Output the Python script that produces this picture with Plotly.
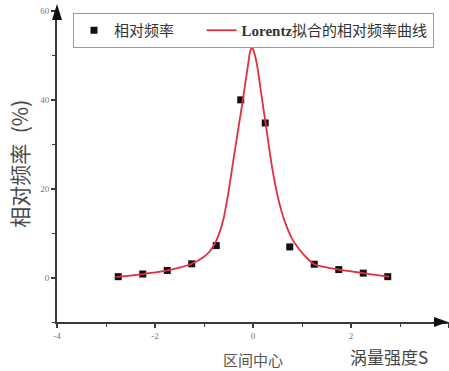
import plotly.graph_objects as go

# Data points (bin centers and relative frequency, %)
bin_centers = [-2.75, -2.25, -1.75, -1.25, -0.75, -0.25, 0.25, 0.75, 1.25, 1.75, 2.25, 2.75]
rel_freq = [0.2, 0.8, 1.6, 3.1, 7.2, 40.0, 34.8, 6.9, 3.0, 1.8, 1.0, 0.2]

# Lorentz fitted curve
curve_x = [-2.8, -2.5, -2.25, -2.0, -1.75, -1.5, -1.25, -1.0, -0.9, -0.8, -0.7, -0.6,
           -0.5, -0.4, -0.3, -0.2, -0.1, -0.06, -0.02, 0.02, 0.08, 0.18, 0.28, 0.38,
           0.48, 0.58, 0.68, 0.8, 0.9, 1.0, 1.25, 1.5, 1.75, 2.0, 2.25, 2.5, 2.78]
curve_y = [0.1, 0.45, 0.8, 1.15, 1.6, 2.25, 3.1, 4.7, 5.7, 7.2, 9.6, 13.3,
           19.3, 26.5, 33.5, 40.5, 48.0, 50.8, 51.8, 50.8, 48.0, 40.5, 33.0, 25.5,
           19.5, 15.0, 11.7, 8.7, 7.0, 5.6, 3.0, 2.3, 1.8, 1.4, 1.0, 0.6, 0.2]

x_ticks = [-4, -2, 0, 2, 4]
y_ticks = [0, 20, 40, 60]

serif = "Liberation Serif"
cjk = "Noto Sans CJK SC"
axis_col = "#3a3a3a"

fig = go.Figure()
fig.add_trace(go.Scatter(
    x=bin_centers, y=rel_freq, mode="markers", name="相对频率\u2002\u2002\u2002",
    marker=dict(symbol="square", size=7, color="#111111"),
))
fig.add_trace(go.Scatter(
    x=curve_x, y=curve_y, mode="lines", name="<b>Lorentz</b>拟合的相对频率曲线",
    line=dict(color="#e0303a", width=1.8, shape="spline", smoothing=0.8),
))

L, R, T, B = 57, 0, 11, 48.5
pw = 449 - L - R
ph = 371 - T - B


def px(xp):
    return (xp - L) / pw


def py(yp):
    return (371 - B - yp) / ph


fig.update_layout(
    width=449, height=371,
    margin=dict(l=L, r=R, t=T, b=B, pad=0, autoexpand=False),
    paper_bgcolor="white", plot_bgcolor="white",
    showlegend=True,
    legend=dict(
        orientation="h", x=px(73), y=py(13), xanchor="left", yanchor="top",
        bordercolor="#9a9a9a", borderwidth=1, bgcolor="white",
        font=dict(family=f"{serif}, {cjk}", size=15, color="#333333"),
        itemwidth=30, tracegroupgap=0,
    ),
    xaxis=dict(
        range=[-4, 4], tickvals=x_ticks, ticktext=[str(v) for v in x_ticks],
        showgrid=False, zeroline=False, showline=True, linecolor=axis_col, linewidth=2,
        ticks="outside", ticklen=4, tickwidth=1.5, tickcolor=axis_col,
        minor=dict(dtick=1, tick0=-3, ticks="outside", ticklen=3, tickcolor=axis_col, tickwidth=1.2),
        tickfont=dict(family=serif, size=9, color="#777777"),
        automargin=False, fixedrange=True,
    ),
    yaxis=dict(
        range=[-10, 60], tickvals=y_ticks, ticktext=[str(v) for v in y_ticks],
        showgrid=False, zeroline=False, showline=True, linecolor=axis_col, linewidth=2,
        ticks="outside", ticklen=4, tickwidth=1.5, tickcolor=axis_col,
        minor=dict(dtick=20, tick0=10, ticks="outside", ticklen=3, tickcolor=axis_col, tickwidth=1.2),
        tickfont=dict(family=serif, size=9, color="#777777"),
        automargin=False, fixedrange=True,
    ),
)

# axis arrowheads (paper coords)
fig.add_shape(type="path", xref="paper", yref="paper",
              path=f"M {px(57)} {py(4)} L {px(52)} {py(20)} L {px(62)} {py(20)} Z",
              fillcolor="#111111", line=dict(width=0))
fig.add_shape(type="path", xref="paper", yref="paper",
              path=f"M {px(448)} {py(322.5)} L {px(434)} {py(317.5)} L {px(434)} {py(327.5)} Z",
              fillcolor="#111111", line=dict(width=0))

# y-axis title
fig.add_annotation(text="相对频率\u2002(%)", xref="paper", yref="paper",
                   x=px(19), y=py(164), xanchor="center", yanchor="middle", textangle=-90,
                   showarrow=False, font=dict(family=cjk, size=21, color="#4a4a4a"))
fig.add_annotation(text="区间中心", xref="paper", yref="paper",
                   x=px(253), y=py(360), xanchor="center", yanchor="middle",
                   showarrow=False, font=dict(family=cjk, size=15, color="#555555"))
fig.add_annotation(text="涡量强度S", xref="paper", yref="paper",
                   x=px(389), y=py(357), xanchor="center", yanchor="middle",
                   showarrow=False, font=dict(family=cjk, size=17, color="#444444"))

fig.write_html("out.html", config={"displayModeBar": False},
               post_script="document.body.style.margin='0';document.body.style.overflow='hidden';")
